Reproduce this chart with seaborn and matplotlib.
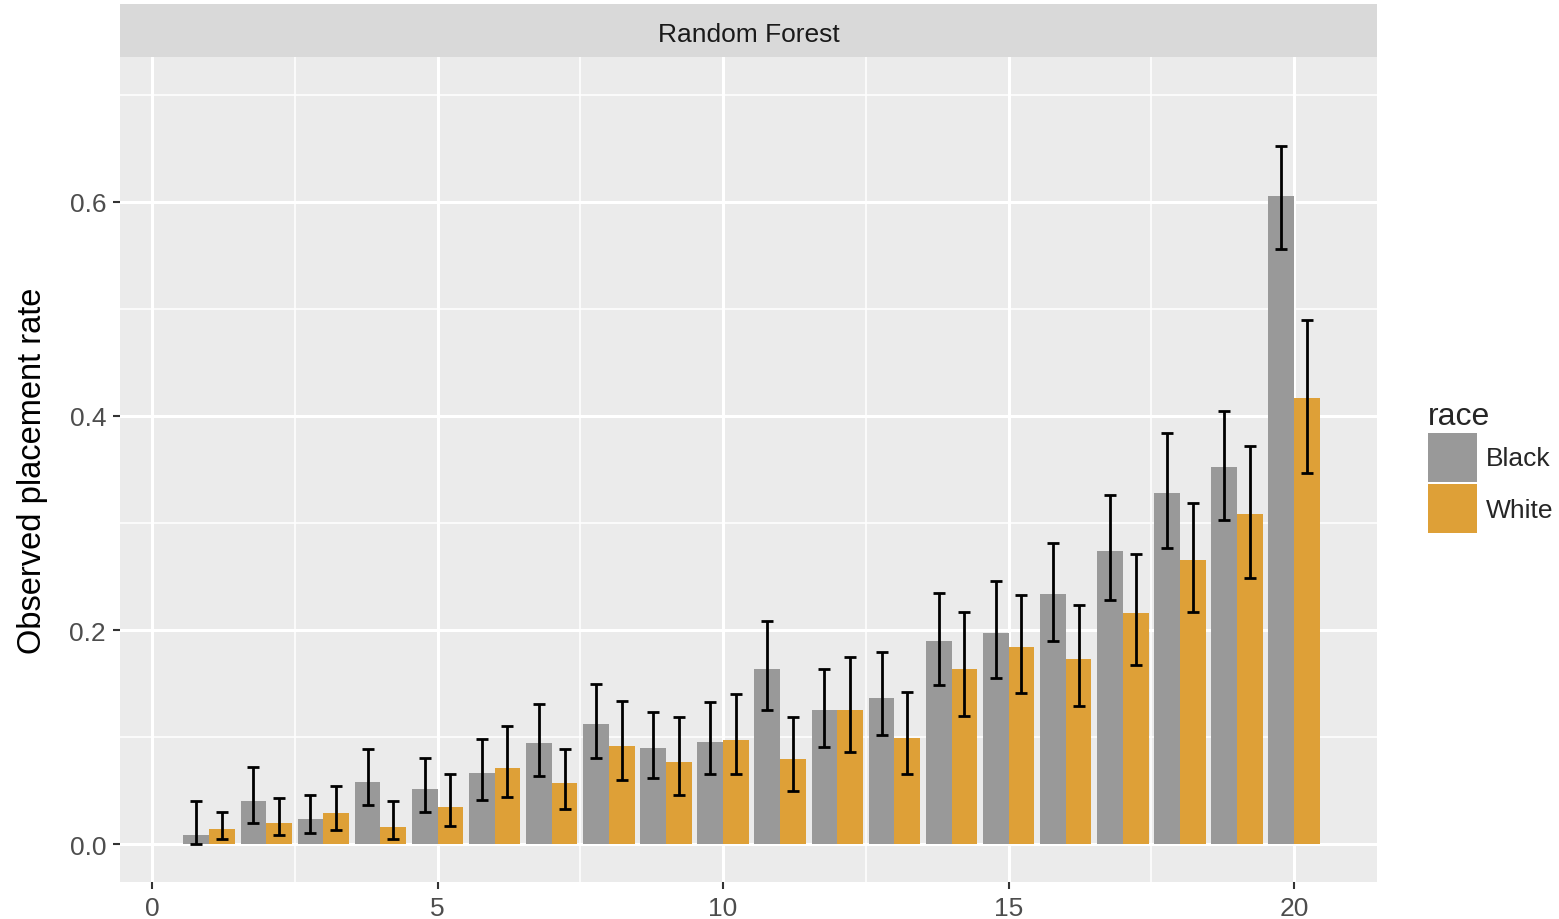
import numpy as np
import pandas as pd
import matplotlib
matplotlib.use("Agg")
import matplotlib.pyplot as plt
from matplotlib.ticker import MultipleLocator
import seaborn as sns

# Observed placement rate per risk-score bin, with 95% interval bounds
bins = list(range(1, 21))
black = [0.008, 0.040, 0.023, 0.058, 0.051, 0.066, 0.094, 0.112, 0.090, 0.095,
         0.164, 0.125, 0.136, 0.190, 0.197, 0.234, 0.274, 0.328, 0.352, 0.606]
black_lo = [0.000, 0.020, 0.010, 0.036, 0.030, 0.041, 0.064, 0.080, 0.062, 0.065,
            0.125, 0.091, 0.102, 0.149, 0.155, 0.190, 0.228, 0.277, 0.303, 0.556]
black_hi = [0.040, 0.072, 0.046, 0.089, 0.080, 0.098, 0.131, 0.150, 0.123, 0.133,
            0.208, 0.164, 0.179, 0.235, 0.246, 0.281, 0.326, 0.384, 0.405, 0.652]
white = [0.014, 0.020, 0.029, 0.016, 0.035, 0.071, 0.057, 0.092, 0.077, 0.097,
         0.079, 0.125, 0.099, 0.164, 0.184, 0.173, 0.216, 0.265, 0.308, 0.417]
white_lo = [0.005, 0.008, 0.013, 0.005, 0.017, 0.044, 0.033, 0.060, 0.046, 0.065,
            0.050, 0.086, 0.065, 0.120, 0.141, 0.129, 0.167, 0.217, 0.249, 0.347]
white_hi = [0.030, 0.043, 0.054, 0.040, 0.065, 0.110, 0.089, 0.134, 0.119, 0.140,
            0.119, 0.175, 0.142, 0.217, 0.233, 0.223, 0.271, 0.319, 0.372, 0.490]

races = ["Black", "White"]
colors = {"Black": "#999999", "White": "#DEA037"}
panel_title = "Random Forest"
y_title = "Observed placement rate"

df = pd.DataFrame({
    "bin": bins * 2,
    "race": ["Black"] * len(bins) + ["White"] * len(bins),
    "rate": black + white,
    "lo": black_lo + white_lo,
    "hi": black_hi + white_hi,
})

sns.set_theme(style="darkgrid")
plt.rcParams["font.family"] = ["Liberation Sans", "DejaVu Sans"]

W, H = 1559, 920
fig = plt.figure(figsize=(W / 100, H / 100), dpi=100)
px_l, px_r, px_t, px_b = 120, 1377, 58, 883
ax = fig.add_axes([px_l / W, 1 - px_b / H, (px_r - px_l) / W, (px_b - px_t) / H])
ax.set_facecolor("#EBEBEB")

group_width = 0.9
sns.barplot(data=df, x="bin", y="rate", hue="race", hue_order=races,
            palette=colors, native_scale=True, width=group_width,
            errorbar=None, saturation=1, linewidth=0, ax=ax, zorder=2)

# interval bars at the dodged bar centres
offset = group_width / 4
for i, race in enumerate(races):
    sub = df[df["race"] == race]
    xs = sub["bin"].to_numpy() + (i - 0.5) * 2 * offset
    yerr = [sub["rate"] - sub["lo"], sub["hi"] - sub["rate"]]
    ax.errorbar(xs, sub["rate"], yerr=yerr, fmt="none", ecolor="black",
                elinewidth=2.0, capsize=4.5, capthick=2.0, zorder=3)

ax.set_xlim(-0.56, 21.45)
ax.set_ylim(-0.0355, 0.7355)
ax.xaxis.set_major_locator(MultipleLocator(5))
ax.xaxis.set_minor_locator(MultipleLocator(2.5))
ax.yaxis.set_major_locator(MultipleLocator(0.2))
ax.yaxis.set_minor_locator(MultipleLocator(0.1))
ax.yaxis.set_major_formatter(matplotlib.ticker.FormatStrFormatter("%.1f"))
ax.grid(which="major", color="white", linewidth=2.2, zorder=0)
ax.grid(which="minor", color="white", linewidth=1.1, zorder=0)
ax.set_axisbelow(True)
for s in ax.spines.values():
    s.set_visible(False)
ax.tick_params(which="major", length=5, width=1.5, color="#333333",
               labelsize=19, labelcolor="#4D4D4D", pad=5, bottom=True, left=True)
ax.tick_params(which="minor", length=0)
ax.set_xlabel("")
ax.set_ylabel("")
fig.text(33 / W, 1 - 471 / H, y_title, rotation=90, ha="center", va="center",
         fontsize=23.5, color="black")

# facet strip
strip = fig.add_axes([px_l / W, 1 - px_t / H, (px_r - px_l) / W, 53 / H])
strip.set_facecolor("#D9D9D9")
strip.set_xticks([])
strip.set_yticks([])
strip.grid(False)
for s in strip.spines.values():
    s.set_visible(False)
strip.text(0.5, 0.43, panel_title, ha="center", va="center", fontsize=19,
           color="#1A1A1A", transform=strip.transAxes)

# legend to the right of the panel
handles, labels = ax.get_legend_handles_labels()
ax.get_legend().remove()
leg = fig.legend(handles, labels, title="race", loc="center left",
                 bbox_to_anchor=(1428 / W, 1 - 468 / H), frameon=False,
                 fontsize=19, title_fontsize=23, handlelength=1.85,
                 handleheight=2.5, labelspacing=0.08, handletextpad=0.35,
                 borderpad=0, borderaxespad=0, alignment="left")

fig.savefig("out.png", dpi=100)
